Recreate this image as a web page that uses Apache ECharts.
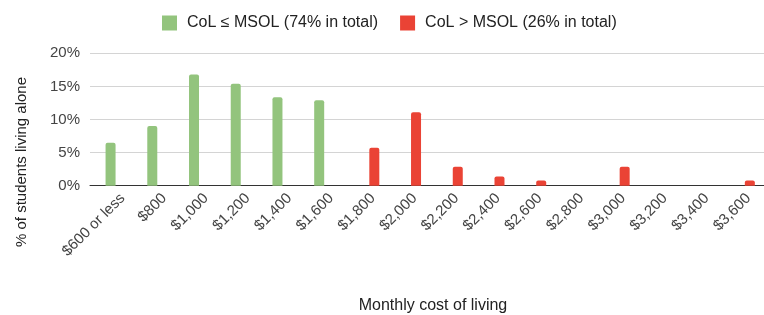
<!DOCTYPE html>
<html>
<head>
<meta charset="utf-8">
<script src="https://cdn.jsdelivr.net/npm/echarts@6/dist/echarts.min.js"></script>
<style>html,body{margin:0;padding:0;background:#fff}#c{width:764px;height:315px}</style>
</head>
<body>
<div id="c"></div>
<script>
const categories = ['$600 or less','$800','$1,000','$1,200','$1,400','$1,600','$1,800','$2,000','$2,200','$2,400','$2,600','$2,800','$3,000','$3,200','$3,400','$3,600'];
const withinValues = [6.5, 9.0, 16.8, 15.4, 13.35, 12.9, null, null, null, null, null, null, null, null, null, null];
const aboveValues = [null, null, null, null, null, null, 5.75, 11.1, 2.85, 1.4, 0.8, null, 2.85, null, null, 0.8];
const yTicks = [0, 5, 10, 15, 20];
const seriesNames = ['CoL \u2264 MSOL (74% in total)', 'CoL > MSOL (26% in total)'];

const FONT = '"Liberation Sans", Arial, sans-serif';
const chart = echarts.init(document.getElementById('c'), null, {renderer: 'canvas'});
chart.setOption({
  animation: false,
  legend: {
    left: 162, top: 15, padding: 0, itemWidth: 15, itemHeight: 15, itemGap: 22,
    icon: 'rect',
    textStyle: {fontFamily: FONT, fontSize: 16, color: '#222', padding: [0, 0, 0, 5]},
    data: seriesNames
  },
  grid: [
    {left: 90, right: 0, top: 53.3, bottom: 129.3},
    {left: 96.4, right: -3.3, top: 53.3, bottom: 129.3}
  ],
  xAxis: [
    {gridIndex: 0, type: 'value', min: 0, max: 1, axisLabel: {show: false}, axisTick: {show: false}, splitLine: {show: false},
     axisLine: {show: true, lineStyle: {color: '#333', width: 1}}},
    {gridIndex: 1, type: 'category', data: categories, axisTick: {show: false}, axisLine: {show: false},
     axisLabel: {interval: 0, rotate: 45, margin: 5, align: 'right', verticalAlign: 'top',
                 fontFamily: FONT, fontSize: 15, color: '#444'}}
  ],
  yAxis: [
    {gridIndex: 0, type: 'value', min: yTicks[0], max: yTicks[yTicks.length - 1], interval: 5,
     axisLine: {show: false}, axisTick: {show: false},
     axisLabel: {margin: 10, fontFamily: FONT, fontSize: 15, color: '#444', formatter: v => v + '%'},
     splitLine: {lineStyle: {color: '#d4d4d4', width: 1}}},
    {gridIndex: 1, type: 'value', min: 0, max: 20, show: false, splitLine: {show: false}}
  ],
  series: [
    {name: seriesNames[0], type: 'bar', xAxisIndex: 1, yAxisIndex: 1, data: withinValues, barWidth: 10, barGap: '34%',
     itemStyle: {color: '#93c47d', borderRadius: [2, 2, 0, 0]}},
    {name: seriesNames[1], type: 'bar', xAxisIndex: 1, yAxisIndex: 1, data: aboveValues, barWidth: 10, barGap: '34%',
     itemStyle: {color: '#ea4335', borderRadius: [2, 2, 0, 0]}}
  ],
  graphic: [
    {type: 'text', x: 22, y: 162, rotation: Math.PI / 2, style: {text: '% of students living alone', fontFamily: FONT, fontSize: 15, fill: '#222', align: 'center', verticalAlign: 'middle'}},
    {type: 'text', x: 433, y: 306, style: {text: 'Monthly cost of living', fontFamily: FONT, fontSize: 16, fill: '#222', align: 'center', verticalAlign: 'middle'}}
  ]
});
</script>
</body>
</html>
